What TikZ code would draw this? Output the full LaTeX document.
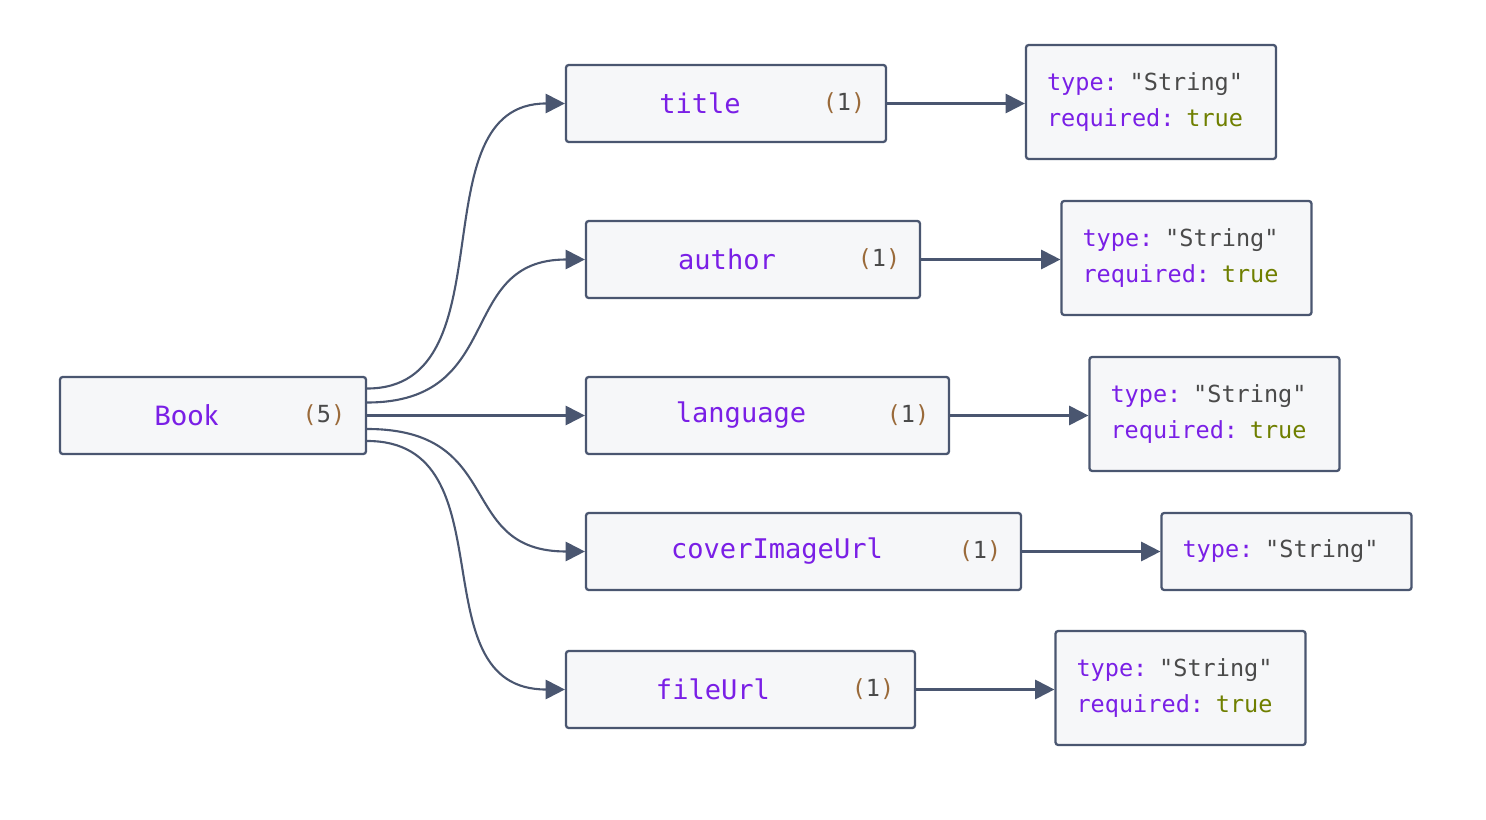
\documentclass[tikz,border=0pt]{standalone}
\usepackage{fontspec}
\setmainfont{Fira Sans}
\newfontfamily\codefont{DejaVu Sans Mono}
\usetikzlibrary{positioning,arrows.meta}

\definecolor{edgegray}{HTML}{4A5670}
\definecolor{boxfill}{HTML}{F6F7F9}
\definecolor{keypurple}{HTML}{7A1FE6}
\definecolor{strgray}{HTML}{4A4A4A}
\definecolor{boolgreen}{HTML}{6F7F00}
\definecolor{parenbrown}{HTML}{9A6A3A}

\newcommand{\cnt}[1]{\textcolor{parenbrown}{(}\textcolor{strgray}{#1}\textcolor{parenbrown}{)}}
\newcommand{\typeline}{\textcolor{keypurple}{type:} \textcolor{strgray}{"String"}}
\newcommand{\reqline}{\textcolor{keypurple}{required:} \textcolor{boolgreen}{true}}

\begin{document}
\begin{tikzpicture}[
	x=0.02cm, y=-0.02cm,
	fieldbox/.style={draw=edgegray, line width=1.3pt, fill=boxfill, rounded corners=1.5pt, minimum height=1.54cm, inner sep=0pt},
	specbox/.style={draw=edgegray, line width=1.3pt, fill=boxfill, rounded corners=1.5pt, minimum width=5cm, minimum height=2.28cm, text width=4.16cm, inner xsep=0.42cm, align=left, font=\codefont\fontsize{13.4}{21}\selectfont},
	fieldname/.style={text=keypurple, font=\codefont\fontsize{15.4}{18}\selectfont},
	fieldcount/.style={font=\codefont\fontsize{13.4}{16}\selectfont},
	link/.style={draw=edgegray, line width=1.2pt, -{Triangle[length=11pt, width=11pt]}}
	]
	\useasboundingbox (0,0) rectangle (1486,820);

	% root
	\node[fieldbox, minimum width=6.12cm] (book) at (213,415.5) {};
	\node[text=keypurple, font=\fontsize{16}{19}\selectfont] (booklbl) at (186,415.5) {Book};
	\node[fieldcount] (bookcnt) at (324,415.5) {\cnt{5}};

	% fields
	\node[fieldbox, minimum width=6.4cm] (title) at (726,103.5) {};
	\node[fieldname] (titlelbl) at (700,103.5) {title};
	\node[fieldcount] (titlecnt) at (844,103.5) {\cnt{1}};

	\node[fieldbox, minimum width=6.68cm] (author) at (753,259.5) {};
	\node[fieldname] (authorlbl) at (727,259.5) {author};
	\node[fieldcount] (authorcnt) at (879,259.5) {\cnt{1}};

	\node[fieldbox, minimum width=7.26cm] (lang) at (767.5,415.5) {};
	\node[fieldname] (langlbl) at (741,415.5) {language};
	\node[fieldcount] (langcnt) at (908,415.5) {\cnt{1}};

	\node[fieldbox, minimum width=8.7cm] (cover) at (803.5,551.5) {};
	\node[fieldname] (coverlbl) at (777,551.5) {coverImageUrl};
	\node[fieldcount] (covercnt) at (980,551.5) {\cnt{1}};

	\node[fieldbox, minimum width=6.98cm] (file) at (740.5,689.5) {};
	\node[fieldname] (filelbl) at (713,689.5) {fileUrl};
	\node[fieldcount] (filecnt) at (873,689.5) {\cnt{1}};

	% specs
	\node[specbox] (titlespec) at (1151,102) {\typeline\\\reqline};
	\node[specbox] (authorspec) at (1186.5,258) {\typeline\\\reqline};
	\node[specbox] (langspec) at (1214.5,414) {\typeline\\\reqline};
	\node[specbox, minimum height=1.54cm] (coverspec) at (1286.5,551.5) {\typeline};
	\node[specbox] (filespec) at (1180.5,688) {\typeline\\\reqline};

	% root to fields
	\path[link] ([yshift=0.54cm]book.east) .. controls +(145,0) and +(-150,0) .. (title.west);
	\path[link] ([yshift=0.26cm]book.east) .. controls +(140,0) and +(-130,0) .. (author.west);
	\path[link] (book.east) -- (lang.west);
	\path[link] ([yshift=-0.27cm]book.east) .. controls +(140,0) and +(-130,0) .. (cover.west);
	\path[link] ([yshift=-0.51cm]book.east) .. controls +(145,0) and +(-150,0) .. (file.west);

	% fields to specs
	\path[link] (title.east) -- (title.east -| titlespec.west);
	\path[link] (author.east) -- (author.east -| authorspec.west);
	\path[link] (lang.east) -- (lang.east -| langspec.west);
	\path[link] (cover.east) -- (cover.east -| coverspec.west);
	\path[link] (file.east) -- (file.east -| filespec.west);
\end{tikzpicture}
\end{document}
